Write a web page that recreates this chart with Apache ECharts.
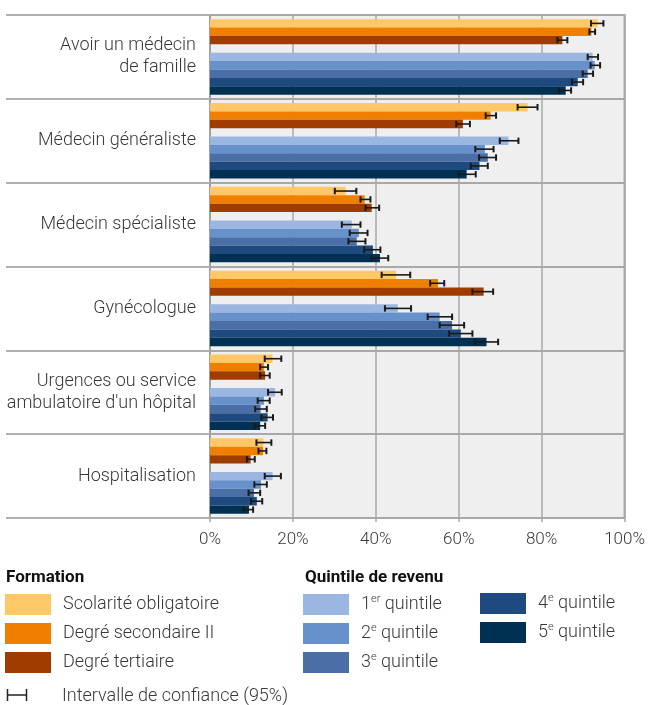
<!DOCTYPE html>
<html>
<head>
<meta charset="utf-8">
<script src="https://cdn.jsdelivr.net/npm/echarts@6/dist/echarts.min.js"></script>
<style>
html,body{margin:0;padding:0;background:#fff;}
#chart{width:648px;height:705px;}
</style>
</head>
<body>
<div id="chart"></div>
<script>
const categories = ['Avoir un médecin\nde famille', 'Médecin généraliste', 'Médecin spécialiste', 'Gynécologue', "Urgences ou service\nambulatoire d'un hôpital", 'Hospitalisation'];
const xTickLabels = ['0%', '20%', '40%', '60%', '80%', '100%'];

const formationNames = ['Scolarité obligatoire', 'Degré secondaire II', 'Degré tertiaire'];
const quintileNames = ['1er quintile', '2e quintile', '3e quintile', '4e quintile', '5e quintile'];

const scolarite      = [93.5, 76.6, 32.7, 44.9, 15.1, 12.9];
const scolariteLow   = [91.9, 74.2, 30.1, 41.4, 13.2, 11.2];
const scolariteHigh  = [94.9, 79.0, 35.3, 48.3, 17.2, 14.8];
const secondaire     = [92.0, 67.7, 37.3, 55.0, 13.0, 12.8];
const secondaireLow  = [91.5, 66.5, 36.3, 53.1, 12.1, 11.7];
const secondaireHigh = [92.9, 69.0, 38.7, 56.5, 14.0, 13.6];
const tertiaire      = [85.0, 61.0, 39.0, 66.0, 13.3, 9.8];
const tertiaireLow   = [83.8, 59.4, 37.5, 63.3, 12.1, 8.9];
const tertiaireHigh  = [86.2, 62.7, 40.8, 68.3, 14.4, 10.8];

const quintile1      = [92.3, 72.0, 34.2, 45.3, 15.7, 15.1];
const quintile1Low   = [91.1, 69.9, 31.8, 42.2, 14.0, 13.2];
const quintile1High  = [93.6, 74.4, 36.3, 48.5, 17.3, 17.1];
const quintile2      = [92.8, 66.3, 35.9, 55.4, 13.0, 12.3];
const quintile2Low   = [91.8, 64.0, 33.7, 52.5, 11.5, 10.7];
const quintile2High  = [94.1, 68.4, 38.0, 58.4, 14.4, 13.7];
const quintile3      = [91.1, 67.0, 35.4, 58.4, 12.2, 10.6];
const quintile3Low   = [89.9, 64.9, 33.4, 55.4, 10.9, 9.3];
const quintile3High  = [92.4, 69.0, 37.5, 61.3, 13.7, 12.1];
const quintile4      = [88.7, 65.0, 39.3, 60.5, 13.9, 11.3];
const quintile4Low   = [87.3, 62.9, 37.2, 57.7, 12.4, 9.9];
const quintile4High  = [90.0, 67.0, 41.1, 63.3, 15.2, 12.6];
const quintile5      = [85.8, 61.9, 41.0, 66.7, 12.1, 9.4];
const quintile5Low   = [84.2, 60.0, 39.0, 63.9, 10.8, 8.1];
const quintile5High  = [87.1, 64.1, 43.0, 69.5, 13.3, 10.4];

const colors = ['#FDC865', '#F07F00', '#A03C00', '#9BB6E0', '#6691CB', '#4A6EA6', '#1E4A7F', '#003152'];

// ---- build the options ----
const FONT = 'Roboto, "Noto Sans", sans-serif';
const TEXT = '#383838';
const FW = 300;
const FS = 18;
const groupSlots = 10;
const seriesDefs = [
  { name: formationNames[0], v: scolarite, lo: scolariteLow, hi: scolariteHigh, slot: 1 },
  { name: formationNames[1], v: secondaire, lo: secondaireLow, hi: secondaireHigh, slot: 2 },
  { name: formationNames[2], v: tertiaire, lo: tertiaireLow, hi: tertiaireHigh, slot: 3 },
  { name: quintileNames[0], v: quintile1, lo: quintile1Low, hi: quintile1High, slot: 5 },
  { name: quintileNames[1], v: quintile2, lo: quintile2Low, hi: quintile2High, slot: 6 },
  { name: quintileNames[2], v: quintile3, lo: quintile3Low, hi: quintile3High, slot: 7 },
  { name: quintileNames[3], v: quintile4, lo: quintile4Low, hi: quintile4High, slot: 8 },
  { name: quintileNames[4], v: quintile5, lo: quintile5Low, hi: quintile5High, slot: 9 }
];
const nRows = categories.length * groupSlots + 1;
const rowCats = [];
for (let i = 0; i < nRows; i++) rowCats.push(String(i));

const series = [];
const errData = [];
seriesDefs.forEach((d, si) => {
  const data = new Array(nRows).fill('-');
  d.v.forEach((val, g) => {
    const row = g * groupSlots + d.slot;
    data[row] = val;
    errData.push([row, d.lo[g], d.hi[g]]);
  });
  series.push({
    name: d.name,
    type: 'bar',
    xAxisIndex: 0,
    yAxisIndex: 0,
    barWidth: '100%',
    barGap: '-100%',
    itemStyle: { color: colors[si] },
    data: data,
    silent: true,
    z: 2
  });
});
series.push({
  name: 'ci',
  type: 'custom',
  xAxisIndex: 0,
  yAxisIndex: 0,
  z: 10,
  silent: true,
  encode: { x: [1, 2], y: 0 },
  data: errData,
  renderItem: function (params, api) {
    const row = api.value(0);
    const lo = api.coord([api.value(1), row]);
    const hi = api.coord([api.value(2), row]);
    const h = 3.2;
    const st = { stroke: '#1a1a1a', lineWidth: 1.6 };
    return {
      type: 'group',
      children: [
        { type: 'line', shape: { x1: lo[0], y1: lo[1], x2: hi[0], y2: hi[1] }, style: st },
        { type: 'line', shape: { x1: lo[0], y1: lo[1] - h, x2: lo[0], y2: lo[1] + h }, style: { stroke: '#1a1a1a', lineWidth: 2 } },
        { type: 'line', shape: { x1: hi[0], y1: hi[1] - h, x2: hi[0], y2: hi[1] + h }, style: { stroke: '#1a1a1a', lineWidth: 2 } }
      ]
    };
  }
});

function supFormatter(name) {
  const m = name.match(/^(\d)(er|e) (.*)$/);
  if (m) return '{n|' + m[1] + '}{sup|' + m[2] + '}{n| ' + m[3] + '}';
  return '{n|' + name + '}';
}
const legendText = {
  fontFamily: FONT, fontSize: FS, fontWeight: FW, color: TEXT, padding: [0, 0, 0, 7],
  rich: {
    n: { fontFamily: FONT, fontSize: FS, fontWeight: FW, color: TEXT, lineHeight: 21 },
    sup: { fontFamily: FONT, fontSize: 11, fontWeight: FW, color: TEXT, lineHeight: 12, verticalAlign: 'top' }
  }
};
function makeLegend(names, left, top) {
  return {
    data: names, orient: 'vertical', left: left, top: top, padding: 0,
    itemWidth: 46, itemHeight: 21, itemGap: 8, icon: 'rect',
    selectedMode: false, formatter: supFormatter, textStyle: legendText
  };
}

const option = {
  animation: false,
  backgroundColor: '#ffffff',
  textStyle: { fontFamily: FONT },
  grid: {
    left: 210, right: 23, top: 15, bottom: 187,
    show: true, backgroundColor: '#efefef', borderColor: '#a8a8a8', borderWidth: 2
  },
  xAxis: {
    type: 'value', min: 0, max: 100, interval: 20,
    axisLine: { show: true, lineStyle: { color: '#a8a8a8', width: 2 } },
    axisTick: { show: true, length: 4, lineStyle: { color: '#a8a8a8', width: 1.5 } },
    splitLine: { show: true, lineStyle: { color: '#a8a8a8', width: 1.5 } },
    axisLabel: {
      fontFamily: FONT, fontSize: 17, fontWeight: FW, color: TEXT, margin: 13,
      formatter: function (v) { return xTickLabels[Math.round(v / 20)]; }
    }
  },
  yAxis: [
    {
      type: 'category', data: rowCats, inverse: true, boundaryGap: false,
      show: false, position: 'left'
    },
    {
      type: 'category', data: categories, inverse: true, position: 'left',
      axisLine: { show: true, lineStyle: { color: '#a0a0a0', width: 2 } },
      axisTick: { show: true, length: 204, lineStyle: { color: '#b0b0b0', width: 2 } },
      splitLine: { show: true, lineStyle: { color: '#a8a8a8', width: 2 } },
      axisLabel: { fontFamily: FONT, fontSize: FS, fontWeight: FW, color: TEXT, margin: 14, lineHeight: 22, align: 'right' }
    }
  ],
  legend: [
    makeLegend(formationNames, 5, 594),
    makeLegend(quintileNames.slice(0, 3), 303, 594),
    makeLegend(quintileNames.slice(3), 480, 593)
  ],
  graphic: [
    { type: 'text', x: 6, y: 578, style: { text: 'Formation', font: 'bold 17px ' + FONT, fill: '#111', verticalAlign: 'middle' } },
    { type: 'text', x: 305, y: 578, style: { text: 'Quintile de revenu', font: 'bold 17px ' + FONT, fill: '#111', verticalAlign: 'middle' } },
    { type: 'line', shape: { x1: 7, y1: 695, x2: 27, y2: 695 }, style: { stroke: '#222', lineWidth: 1.5 } },
    { type: 'line', shape: { x1: 7.5, y1: 689, x2: 7.5, y2: 701 }, style: { stroke: '#222', lineWidth: 1.5 } },
    { type: 'line', shape: { x1: 26.5, y1: 689, x2: 26.5, y2: 701 }, style: { stroke: '#222', lineWidth: 1.5 } },
    { type: 'text', x: 62, y: 696, style: { text: 'Intervalle de confiance (95%)', font: FW + ' ' + FS + 'px ' + FONT, fill: TEXT, verticalAlign: 'middle' } }
  ],
  series: series
};

const chart = echarts.init(document.getElementById('chart'), null, { renderer: 'canvas' });
chart.setOption(option);
</script>
</body>
</html>
